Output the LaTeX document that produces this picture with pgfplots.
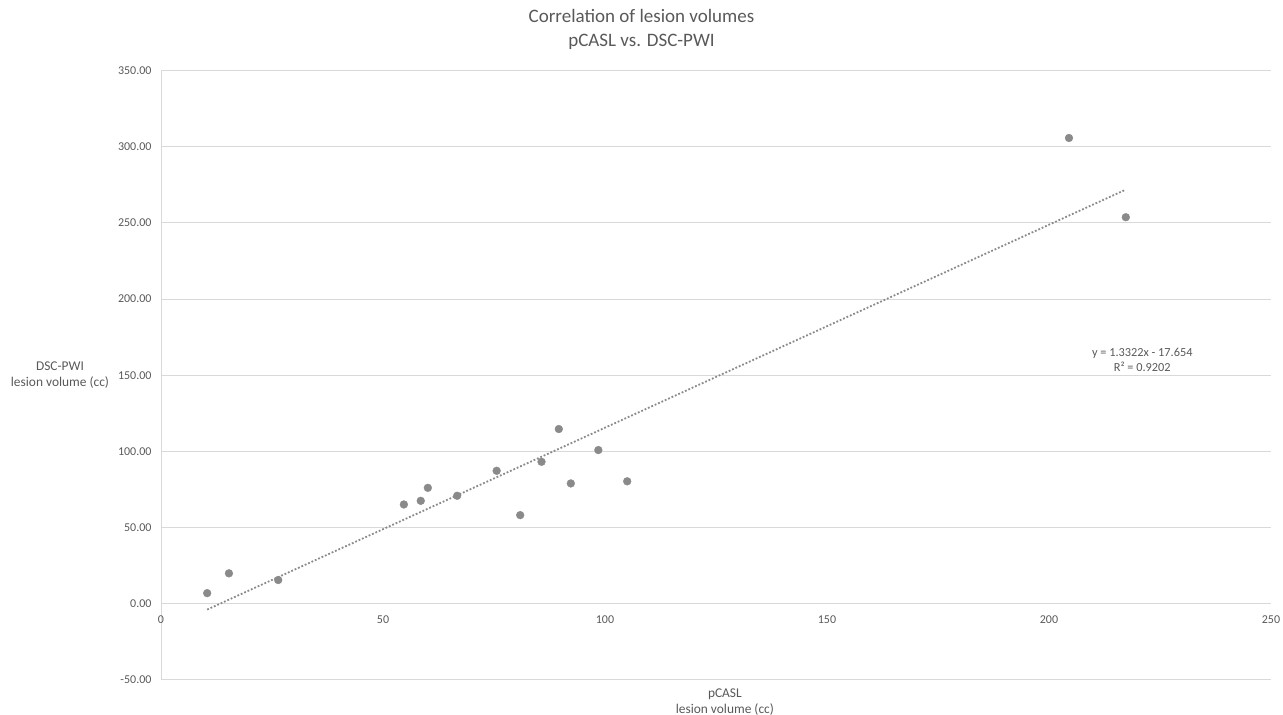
\documentclass[border=0pt]{standalone}
\usepackage{fontspec}
\setmainfont{Carlito}
\usepackage{pgfplots}
\pgfplotsset{compat=1.18}
\definecolor{txt}{RGB}{89,89,89}
\definecolor{gridc}{RGB}{217,217,217}
\definecolor{ptc}{RGB}{138,138,138}
\begin{document}
\begin{tikzpicture}
\path[use as bounding box] (0,0) rectangle (1283pt,715pt);
\begin{axis}[
  at={(161pt,35pt)}, anchor=south west,
  scale only axis, width=1110pt, height=609.5pt,
  xmin=0, xmax=250, ymin=-50, ymax=350,
  axis x line=middle, axis y line=left,
  hide obscured x ticks=false, hide obscured y ticks=false,
  axis line style={-, draw=gridc, line width=1pt},
  ymajorgrids, grid style={draw=gridc, line width=1pt},
  xtick={0,50,100,150,200,250},
  ytick={-50,0,50,100,150,200,250,300,350},
  major tick length=0pt,
  /pgf/number format/assume math mode=true,
  yticklabel style={/pgf/number format/.cd, fixed, fixed zerofill, precision=2, /tikz/.cd,
    font=\fontsize{12}{15}\selectfont, text=txt, xshift=-6pt},
  xticklabel style={font=\fontsize{12}{15}\selectfont, text=txt, yshift=-8pt},
  clip=false,
]
\addplot[draw=ptc, line width=1.8pt, dash pattern=on 1.8pt off 1.9pt, forget plot]
  coordinates {(10.4,-3.79) (217.3,271.84)};
\addplot[only marks, mark=*, mark size=3.9pt, mark options={fill=ptc, draw=ptc}]
  coordinates {
  (10.4,7.0) (15.3,20.0) (26.4,15.6) (54.7,65.2) (58.5,67.6) (60.1,76.1)
  (66.7,70.9) (75.6,87.3) (80.9,58.2) (85.7,93.2) (89.6,114.7) (92.3,79.0)
  (98.5,100.9) (105.0,80.4) (204.5,305.7) (217.3,253.7)};
\node[align=center, text=txt, font=\fontsize{12.3}{15}\selectfont] at (axis cs:221,160)
  {y = 1.3322x - 17.654\\R² = 0.9202};
\node[align=center, text=txt, font=\fontsize{19}{23.3}\selectfont] at (axis description cs:0.4329,1) [yshift=41pt]
  {Correlation of lesion volumes\\pCASL vs. DSC-PWI};
\node[align=center, text=txt, font=\fontsize{13.4}{16.5}\selectfont] at (axis description cs:-0.091,0.5)
  {DSC-PWI\\lesion volume (cc)};
\node[align=center, text=txt, font=\fontsize{13.4}{16.7}\selectfont, anchor=north] at (axis description cs:0.508,0) [yshift=-5pt]
  {pCASL\\lesion volume (cc)};
\end{axis}
\end{tikzpicture}
\end{document}
